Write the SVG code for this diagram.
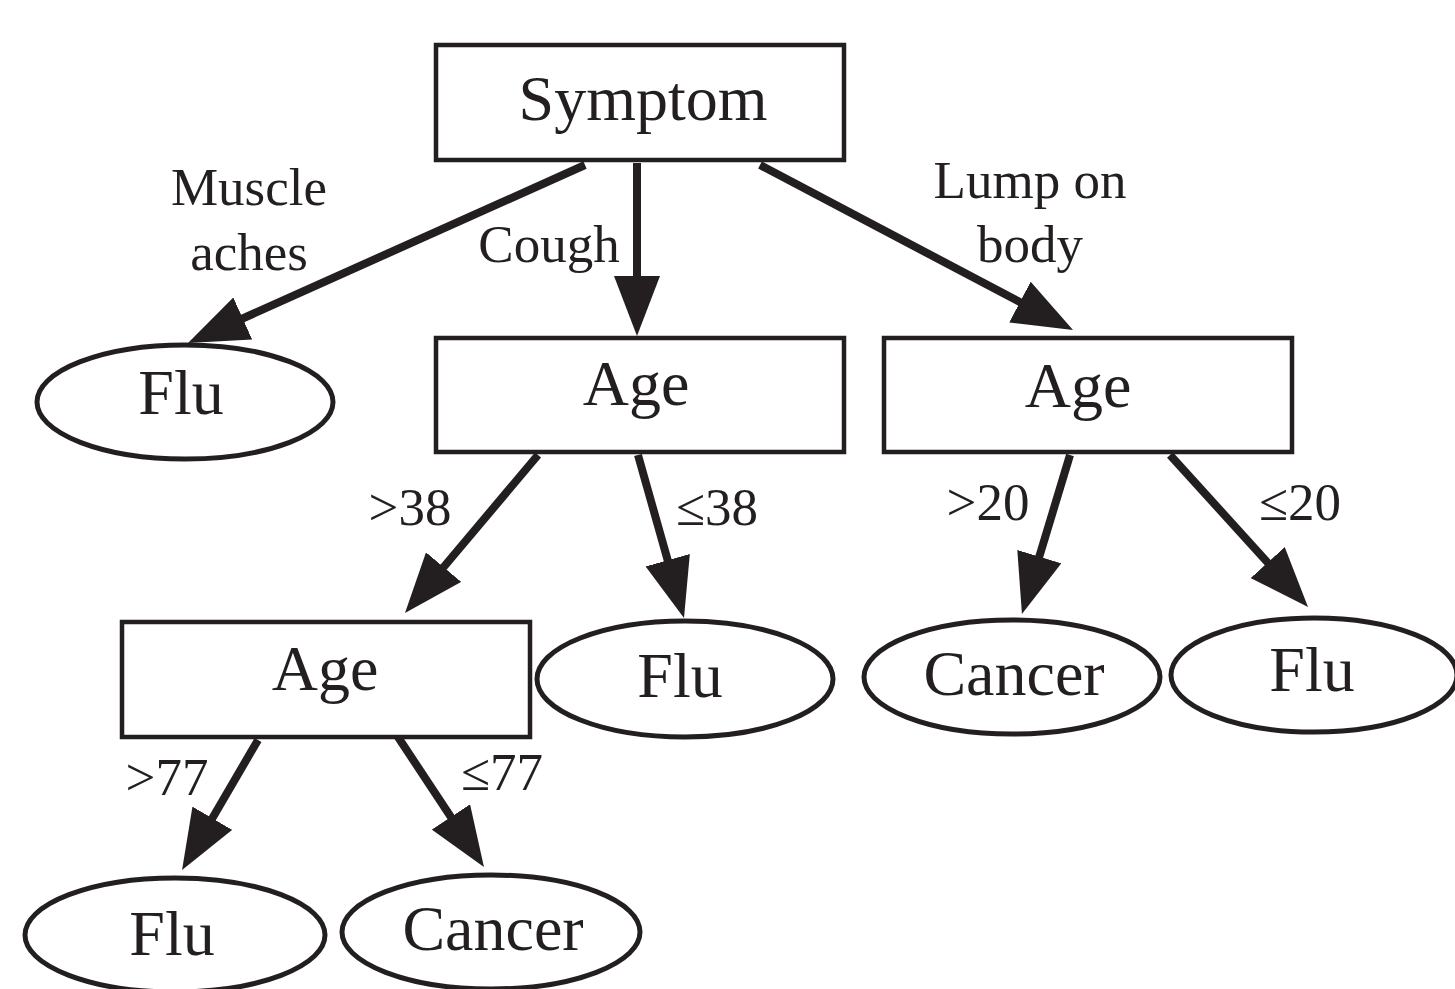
<svg xmlns="http://www.w3.org/2000/svg" width="1455" height="989" viewBox="0 0 1455 989">
<style>
.box{fill:#fff;stroke:#231f20;stroke-width:4.5}
.ell{fill:#fff;stroke:#231f20;stroke-width:5}
.nt{font-family:"Liberation Serif","Times New Roman",serif;font-size:64px;fill:#231f20;text-anchor:middle}
.lt{font-family:"Liberation Serif","Times New Roman",serif;font-size:53px;fill:#231f20;text-anchor:middle}
.edge{stroke:#231f20;stroke-width:8;fill:none;marker-end:url(#ah)}
</style>
<defs>
<marker id="ah" viewBox="0 0 60 46" refX="28" refY="23" markerWidth="60" markerHeight="46" markerUnits="userSpaceOnUse" orient="auto">
<path d="M0,0 L60,23 L0,46 Z" fill="#231f20"/>
</marker>
</defs>
<g id="connectors">
<line class="edge" x1="585" y1="165" x2="217.2" y2="329.9"/>
<line class="edge" x1="637" y1="163" x2="637" y2="304"/>
<line class="edge" x1="760" y1="165" x2="1044.7" y2="315.1"/>
<line class="edge" x1="538" y1="455" x2="425.6" y2="588.5"/>
<line class="edge" x1="638" y1="455" x2="675.3" y2="587.2"/>
<line class="edge" x1="1070" y1="455" x2="1031.2" y2="583.4"/>
<line class="edge" x1="1170" y1="455" x2="1286.5" y2="583.3"/>
<line class="edge" x1="258" y1="740" x2="198.2" y2="842.4"/>
<line class="edge" x1="398" y1="737" x2="466.3" y2="840.3"/>
<text class="lt" x="249" y="205">Muscle</text>
<text class="lt" x="249" y="270">aches</text>
<text class="lt" x="549" y="262">Cough</text>
<text class="lt" x="1030" y="198">Lump on</text>
<text class="lt" x="1030" y="262">body</text>
<text class="lt" x="410" y="525">&gt;38</text>
<text class="lt" x="717" y="525">≤38</text>
<text class="lt" x="988" y="520">&gt;20</text>
<text class="lt" x="1300" y="520">≤20</text>
<text class="lt" x="167" y="795">&gt;77</text>
<text class="lt" x="502" y="790">≤77</text>
</g>
<g id="symptom"><rect class="box" x="436" y="45" width="408" height="115"/><text class="nt" x="643" y="120">Symptom</text></g>
<g id="age1"><rect class="box" x="436" y="338" width="408" height="114"/><text class="nt" x="636" y="405">Age</text></g>
<g id="age2"><rect class="box" x="884" y="338" width="408" height="114"/><text class="nt" x="1078" y="407">Age</text></g>
<g id="age3"><rect class="box" x="122" y="622" width="408" height="115"/><text class="nt" x="325" y="690">Age</text></g>
<g id="flu1"><ellipse class="ell" cx="185" cy="402" rx="148" ry="57"/><text class="nt" x="181" y="414">Flu</text></g>
<g id="flu2"><ellipse class="ell" cx="685" cy="679" rx="148" ry="58"/><text class="nt" x="680" y="697">Flu</text></g>
<g id="cancer1"><ellipse class="ell" cx="1012" cy="677" rx="148" ry="57"/><text class="nt" x="1014" y="695">Cancer</text></g>
<g id="flu3"><ellipse class="ell" cx="1314" cy="675" rx="143" ry="57"/><text class="nt" x="1312" y="691">Flu</text></g>
<g id="flu4"><ellipse class="ell" cx="175" cy="935" rx="150" ry="57"/><text class="nt" x="172" y="955">Flu</text></g>
<g id="cancer2"><ellipse class="ell" cx="491" cy="932" rx="149" ry="57"/><text class="nt" x="493" y="950">Cancer</text></g>
</svg>
